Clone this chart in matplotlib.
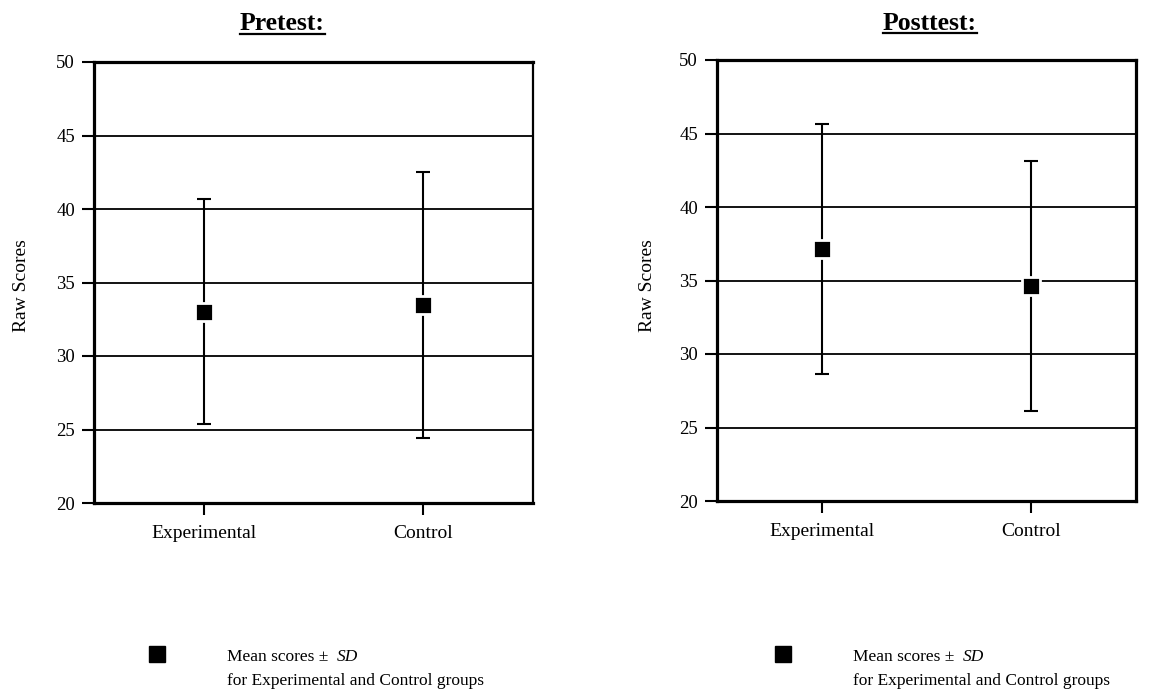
import matplotlib
matplotlib.use("Agg")
import matplotlib.pyplot as plt
from matplotlib.lines import Line2D

plt.rcParams['font.family'] = ['Liberation Serif', 'DejaVu Serif']

groups = ["Experimental", "Control"]
panel_titles = ["Pretest:", "Posttest:"]
pre_means = [33.0, 33.45]
pre_sd = [7.65, 9.05]
post_means = [37.15, 34.6]
post_sd = [8.5, 8.5]
y_ticks = [20, 25, 30, 35, 40, 45, 50]
legend_line1 = "Mean scores \u00b1  "
legend_sd = "SD"
legend_line2 = "for Experimental and Control groups"

W, H = 1167, 693
fig = plt.figure(figsize=(W / 100, H / 100), dpi=100)

def fx(px):
    return px / W

def fy(py):
    return 1 - py / H

# axes rectangles in pixels: left, top, right, bottom
rects = [(94, 62, 533, 503), (717, 60, 1136, 501)]
title_pos = [(282.5, 30), (929.5, 29.5)]
ylabel_x = [22, 648]
legend_sq = [157, 783]
legend_tx = [227, 853]
data = [(pre_means, pre_sd), (post_means, post_sd)]

fig.canvas.draw()
renderer = fig.canvas.get_renderer()

for i, (l, t, r, b) in enumerate(rects):
    ax = fig.add_axes([fx(l), fy(b), fx(r - l), (b - t) / H])
    means, sds = data[i]
    x = list(range(len(groups)))
    for yv in y_ticks[1:-1]:
        ax.axhline(yv, color='black', lw=1.3, zorder=1)
    ax.errorbar(x, means, yerr=sds, fmt='none', ecolor='black', elinewidth=1.5,
                capsize=5.3, capthick=1.5, zorder=2)
    ax.plot(x, means, linestyle='none', marker='s', markersize=13.5,
            markerfacecolor='black', markeredgecolor='white', markeredgewidth=2.0,
            zorder=3)
    ax.set_xlim(-0.5, 1.5)
    ax.set_ylim(20, 50)
    ax.set_yticks(y_ticks)
    ax.set_xticks(x)
    ax.set_xticklabels(groups, fontsize=14)
    ax.tick_params(axis='y', labelsize=13.5, length=8.6, width=1.5, pad=5, direction='out')
    ax.tick_params(axis='x', length=8.6, width=1.5, pad=7, direction='out')
    for side in ['left', 'bottom', 'top']:
        ax.spines[side].set_linewidth(2.3)
    ax.spines['right'].set_linewidth(1.6 if i == 0 else 2.3)

    # ylabel
    fig.text(fx(ylabel_x[i]), fy(286), "Raw Scores", rotation=90, ha='center',
             va='center', fontsize=14)

    # underlined bold title
    tx, ty = title_pos[i]
    tt = fig.text(fx(tx), fy(ty), panel_titles[i], ha='center', va='baseline',
                  fontsize=18.5, fontweight='bold')
    bb = tt.get_window_extent(renderer=renderer)
    fig.add_artist(Line2D([bb.x0 / W, bb.x1 / W], [fy(ty + 3.5), fy(ty + 3.5)],
                          transform=fig.transFigure, color='black', lw=1.6))

    # legend
    fig.add_artist(Line2D([fx(legend_sq[i])], [fy(654)], transform=fig.transFigure,
                          marker='s', markersize=11.5, color='black', linestyle='none'))
    t1 = fig.text(fx(legend_tx[i]), fy(661), legend_line1, ha='left', va='baseline',
                  fontsize=12.5)
    b1 = t1.get_window_extent(renderer=renderer)
    fig.text(b1.x1 / W, fy(661), legend_sd, ha='left', va='baseline', fontsize=12.5,
             style='italic')
    fig.text(fx(legend_tx[i]), fy(685), legend_line2, ha='left', va='baseline',
             fontsize=12.5)

fig.savefig("out.png", dpi=100)
